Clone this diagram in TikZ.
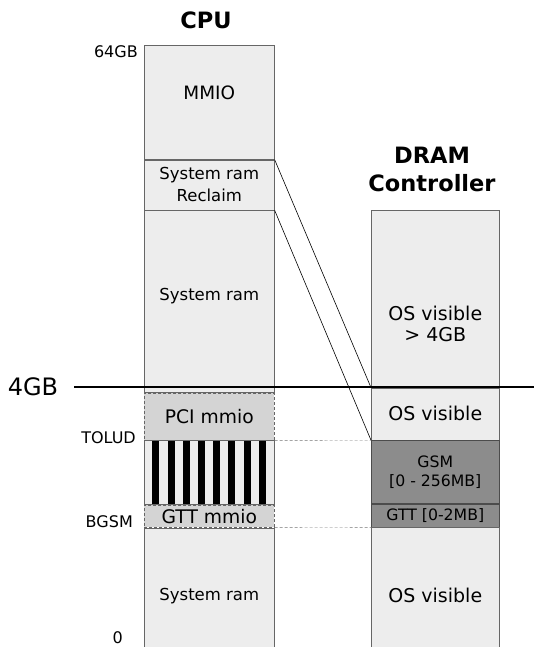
\documentclass[tikz,border=0pt]{standalone}
\usepackage{fontspec}
\setmainfont{DejaVu Sans}
\usetikzlibrary{positioning}
\tikzset{
  region/.style={draw=black!60, fill=black!7, line width=0.6pt, inner sep=0pt, anchor=north west, align=center, font=\fontsize{16.5}{22}\selectfont},
  cpureg/.style={region, minimum width=130pt},
  dramreg/.style={region, minimum width=128pt, font=\fontsize{19}{21}\selectfont},
  mmiobox/.style={cpureg, densely dashed, fill=black!17, font=\fontsize{18.7}{22}\selectfont},
  darkbox/.style={dramreg, fill=black!45, draw=black!70, font=\fontsize{15.7}{19}\selectfont},
  lbl/.style={anchor=east, inner sep=0pt, font=\fontsize{16}{19}\selectfont},
  title/.style={align=center, font=\bfseries\fontsize{22.5}{28}\selectfont},
  tickline/.style={densely dashed, black!55, line width=0.4pt}
}
\begin{document}
\begin{tikzpicture}[x=1pt,y=-1pt]
	\useasboundingbox (0,0) rectangle (534,647);
	\node[title] (cpu) at (206,20) {CPU};
	\node[title] (dram) at (432,169) {DRAM\\Controller};

	% CPU address space
	\node[cpureg, minimum height=114pt, label={[yshift=9pt, font=\fontsize{18.4}{22}\selectfont]center:MMIO}] (mmio) at (144,45) {};
	\node[cpureg, minimum height=50pt, below=0pt of mmio] (reclaim) {System ram\\Reclaim};
	\node[cpureg, minimum height=182pt, label={[yshift=5pt, font=\fontsize{16.5}{22}\selectfont]center:System ram}, below=0pt of reclaim] (sysram) {};
	\node[mmiobox, minimum height=47pt, below=0pt of sysram] (pci) {PCI mmio};
	\node[cpureg, minimum height=64pt, below=0pt of pci] (stolen) {};
	\node[mmiobox, minimum height=22pt, below=0pt of stolen] (gttmmio) {GTT mmio};
	\node[cpureg, minimum height=136pt, below=0pt of gttmmio] (lowram) {System ram};
	\foreach \i in {0,...,7}
		\fill ([xshift={8.3+15.2*\i}, yshift=-0.5]stolen.north west) rectangle ++(7,63);%stripes

	% DRAM side
	\node[dramreg, minimum height=177pt, label={[yshift=-25pt, align=center, font=\fontsize{19}{21}\selectfont]center:OS visible\\> 4GB}] (high) at (371,210) {};
	\node[dramreg, minimum height=52pt, below=0pt of high] (osvis) {OS visible};
	\node[darkbox, minimum height=63pt, below=0pt of osvis] (gsm) {GSM\\{[0 - 256MB]}};
	\node[darkbox, minimum height=23pt, below=0pt of gsm] (gtt) {GTT [0-2MB]};
	\node[dramreg, minimum height=135pt, below=0pt of gtt] (low) {OS visible};

	% labels
	\node[lbl] (l64) at (138,52) {64GB};
	\node[lbl] (ltolud) at (136,438) {TOLUD};
	\node[lbl] (lbgsm) at (133,522) {BGSM};
	\node[lbl] (lzero) at (123,638) {0};
	\node[inner sep=0pt, font=\fontsize{24}{26}\selectfont] (four) at (33,387) {4GB};
	\coordinate (edge) at (534,387);

	\draw[line width=2.5pt] ([xshift=16pt]four.east) -- (edge);%4GB line
	\draw[line width=0.6pt] (reclaim.north east) -- (high.south west);
	\draw[line width=0.6pt] (reclaim.south east) -- (osvis.south west);
	\draw[tickline] (pci.south east) -- (gsm.north west);%TOLUD
	\draw[tickline] (gttmmio.south east) -- (gtt.south west);%BGSM
\end{tikzpicture}
\end{document}
